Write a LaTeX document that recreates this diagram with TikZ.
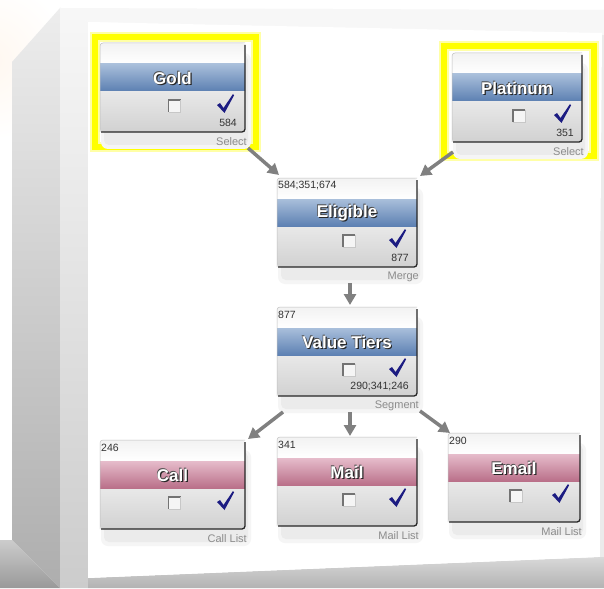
\documentclass[tikz,border=0pt]{standalone}
\usepackage{fontspec}
\setmainfont{Liberation Sans}
\usetikzlibrary{arrows.meta,calc}
\definecolor{arrowgray}{HTML}{808080}
\definecolor{labelgray}{HTML}{8C8C8C}
\definecolor{checkblue}{HTML}{1C1C82}
\definecolor{blueA}{HTML}{A9BFDB}
\definecolor{blueB}{HTML}{5A7EB1}
\definecolor{pinkA}{HTML}{E6BCCB}
\definecolor{pinkB}{HTML}{B86D87}
\definecolor{hiyellow}{HTML}{FFFF00}
\tikzset{
  cardnode/.style={inner sep=0pt, outer sep=0pt, draw=none},
  bandblue/.style={top color=blueA, bottom color=blueB},
  bandpink/.style={top color=pinkA, bottom color=pinkB},
  arr/.style={draw=arrowgray, line width=3.5pt, -{Triangle[length=11pt,width=12pt]}},
  smallnum/.style={font=\fontsize{10.5}{12}\selectfont, text=black!80, inner sep=0pt},
  oplabel/.style={font=\fontsize{11}{12}\selectfont, text=labelgray, inner sep=0pt},
  titletext/.style={font=\fontsize{17}{20}\selectfont\bfseries, inner sep=0pt},
  yellowframe/.style={draw=hiyellow, line width=6pt},
  yellowglow/.style={draw=hiyellow!35, line width=10pt},
}
% name, left, top, width, title, band style, top number, bottom number, label
\newcommand\cardsketch[9]{%
  \pgfmathsetmacro\cardL{#2}\pgfmathsetmacro\cardT{#3}%
  \pgfmathsetmacro\cardR{#2+#4}\pgfmathsetmacro\cardB{#3+89}%
  \pgfmathsetmacro\cardX{#2+#4/2}%
  \fill[black!4, rounded corners=7pt] (\cardL+1,\cardT+10) rectangle (\cardR+6,\cardB+17);
  \fill[black!8, rounded corners=5pt] (\cardL+4,\cardT+12) rectangle (\cardR+3,\cardB+13);
  \node[cardnode, minimum width=#4pt, minimum height=89pt, anchor=north west] (#1) at (\cardL,\cardT) {};
  \begin{scope}
    \clip[rounded corners=3pt] (\cardL,\cardT) rectangle (\cardR,\cardB);
    \shade[top color=black!5, bottom color=white] (\cardL,\cardT) rectangle (\cardR,\cardT+21);
    \shade[#6] (\cardL,\cardT+21) rectangle (\cardR,\cardT+49);
    \shade[top color=black!9, middle color=black!3, bottom color=black!18] (\cardL,\cardT+49) rectangle (\cardR,\cardB);
  \end{scope}
  \draw[black!25, line width=0.5pt, rounded corners=3pt] (\cardL,\cardB) -- (\cardL,\cardT) -- (\cardR,\cardT);
  \draw[black!85, line width=1.3pt, rounded corners=3pt] (\cardL+1,\cardB) -- (\cardR,\cardB) -- (\cardR,\cardT+2);
  % checkbox
  \fill[black!4] (\cardX-4,\cardT+57) rectangle (\cardX+8,\cardT+69);
  \draw[black!55, line width=1.5pt] (\cardX-4,\cardT+69) -- (\cardX-4,\cardT+57) -- (\cardX+8,\cardT+57);
  \draw[black!22, line width=0.9pt] (\cardX+8,\cardT+57) -- (\cardX+8,\cardT+69) -- (\cardX-4,\cardT+69);
  % check mark
  \fill[checkblue] (\cardR-28,\cardT+62) -- (\cardR-25,\cardT+60) -- (\cardR-21.5,\cardT+65)
     -- (\cardR-12,\cardT+51) -- (\cardR-11,\cardT+52.5) -- (\cardR-20.5,\cardT+70) -- cycle;
  % title: dark shadow behind white text
  \node[titletext, text=black!70] at (\cardX-0.6,\cardT+34.4) {#5};
  \node[titletext, text=black!85] at (\cardX+1.2,\cardT+36.2) {#5};
  \node[titletext, text=white] at (\cardX,\cardT+35) {#5};
  % numbers and label
  \node[smallnum, anchor=west] at (\cardL+1,\cardT+8) {#7};
  \node[smallnum, anchor=east] at (\cardR-8,\cardB-9) {#8};
  \node[oplabel, anchor=east] at (\cardR+2,\cardB+10) {#9};
}
\begin{document}
\begin{tikzpicture}[x=1pt,y=-1pt]
\useasboundingbox (0,0) rectangle (604,588);
% background and box
\fill[white] (0,0) rectangle (604,588);
\shade[inner color=orange!6, outer color=white] (-10,60) circle (80);
\fill[black!3] (60,8) -- (604,10) -- (604,35) -- (88,22) -- cycle;
\shade[top color=black!7, bottom color=black!32] (12,62) -- (60,8) -- (60,588) -- (12,540) -- cycle;
\shade[top color=black!3, bottom color=black!20] (60,8) -- (88,22) -- (88,588) -- (60,588) -- cycle;
\shade[top color=black!20, bottom color=black!40] (0,540) -- (12,540) -- (60,588) -- (0,588) -- cycle;
\shade[top color=black!15, bottom color=black!30] (88,578) -- (600,557) -- (604,557) -- (604,588) -- (88,588) -- cycle;
\fill[black!8] (600,35) -- (604,35) -- (604,557) -- (600,557) -- cycle;
\fill[white] (88,22) -- (602,33) -- (598,557) -- (88,578) -- cycle;
% yellow selection frames
\draw[yellowglow] (95,37) rectangle (256,147);
\draw[yellowframe] (95,37) rectangle (256,147);
\draw[yellowglow] (444,46) rectangle (594,156);
\draw[yellowframe] (444,46) rectangle (594,156);
% cards
\cardsketch{gold}{100}{43}{145}{Gold}{bandblue}{}{584}{Select}
\cardsketch{plat}{452}{53}{130}{Platinum}{bandblue}{}{351}{Select}
\cardsketch{elig}{277}{178}{140}{Eligible}{bandblue}{584;351;674}{877}{Merge}
\cardsketch{tiers}{277}{307}{140}{Value Tiers}{bandblue}{877}{290;341;246}{Segment}
\cardsketch{call}{100}{440}{145}{Call}{bandpink}{246}{}{Call List}
\cardsketch{mail}{277}{437}{140}{Mail}{bandpink}{341}{}{Mail List}
\cardsketch{email}{448}{433}{132}{Email}{bandpink}{290}{}{Mail List}
% connectors
\draw[arr] ($(gold.south east)+(3,16)$) -- ($(elig.north west)+(2,-3)$);
\draw[arr] ($(plat.south west)+(1,10)$) -- ($(elig.north east)+(3,-2)$);
\draw[arr] ($(elig.south)+(3,16)$) -- ($(tiers.north)+(3,-2)$);
\draw[arr] ($(tiers.south west)+(6,16)$) -- ($(call.north east)+(3,-1)$);
\draw[arr] ($(tiers.south)+(3,16)$) -- ($(mail.north)+(3,-1)$);
\draw[arr] ($(tiers.south east)+(3,15)$) -- ($(email.north west)+(2,0)$);
\end{tikzpicture}
\end{document}
